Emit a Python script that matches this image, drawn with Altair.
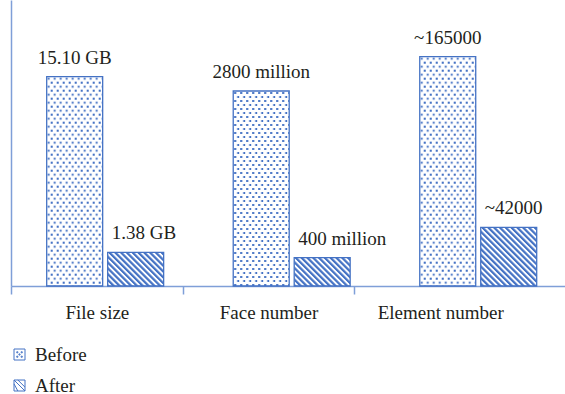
import base64
import altair as alt
import pandas as pd

# ---- data ----
categories = ["File size", "Face number", "Element number"]
groups = ["Before", "After"]
before_height = [209.3, 195.0, 229.3]   # drawn bar heights (relative units)
after_height = [33.7, 28.3, 58.7]
before_labels = ["15.10 GB", "2800 million", "~165000"]
after_labels = ["1.38 GB", "400 million", "~42000"]

BLUE = "#4472c4"
AXIS_BLUE = "#7f9fd8"
TEXT = "#231f20"
FONT = "Liberation Serif"


def pattern_uri(inner, w, h, extra=""):
    svg = (
        '<svg xmlns="http://www.w3.org/2000/svg" width="100%" height="100%">'
        f'<defs><pattern id="p" width="{w}" height="{h}" patternUnits="userSpaceOnUse"{extra}>'
        f'{inner}</pattern></defs><rect width="100%" height="100%" fill="url(#p)"/></svg>'
    )
    return "data:image/svg+xml;base64," + base64.b64encode(svg.encode()).decode()


dots = pattern_uri(
    f'<rect x="1" y="1" width="2" height="2" fill="{BLUE}"/>'
    f'<rect x="4" y="5" width="2" height="2" fill="{BLUE}"/>', 6, 8)
hatch = pattern_uri(
    f'<rect x="0" y="0" width="2.2" height="4.1" fill="{BLUE}"/>', 4.1, 4.1,
    ' patternTransform="rotate(-45)"')
pattern = {"Before": dots, "After": hatch}

rows = []
for c, bh, ah, bl, al in zip(categories, before_height, after_height, before_labels, after_labels):
    rows.append({"category": c, "group": "Before", "height": bh, "label": bl, "url": pattern["Before"]})
    rows.append({"category": c, "group": "After", "height": ah, "label": al, "url": pattern["After"]})
df = pd.DataFrame(rows)

before_path = ("M-1,-1H1V1H-1Z M-0.5,-0.5h0.2v0.2h-0.2Z M0.3,-0.5h0.2v0.2h-0.2Z "
               "M-0.1,-0.1h0.2v0.2h-0.2Z M-0.5,0.3h0.2v0.2h-0.2Z M0.3,0.3h0.2v0.2h-0.2Z")
after_path = "M-1,-1H1V1H-1Z M-1,-1L1,1 M-1,-0.3L-0.3,1 M-0.3,-1L1,0.3"

# ---- bars ----
bx = alt.X("category:N", sort=categories, axis=None,
           scale=alt.Scale(domain=categories, range=[35.7, 525.7], paddingInner=0.373, paddingOuter=0))
bxo = alt.XOffset("group:N", sort=groups,
                  scale=alt.Scale(domain=groups, paddingInner=0.082, paddingOuter=0))
by = alt.Y("height:Q", scale=alt.Scale(domain=[0, 286]),
           axis=alt.Axis(title=None, ticks=False, labels=False, grid=False,
                         domainColor=AXIS_BLUE, domainWidth=1.5))

base = alt.Chart(df).encode(x=bx, xOffset=bxo, y=by)

fill_img = base.mark_image(aspect=False).encode(y2=alt.datum(0), url="url:N")
outline = base.mark_bar(fill=BLUE, fillOpacity=0, stroke=BLUE, strokeWidth=1.3)
lab_before = base.transform_filter(alt.datum.group == "Before").mark_text(
    align="center", baseline="alphabetic", dy=-13, font=FONT, fontSize=19, color=TEXT
).encode(text="label:N")
lab_after = base.transform_filter(alt.datum.group == "After").mark_text(
    align="left", baseline="alphabetic", dx=-24, dy=-13, font=FONT, fontSize=19, color=TEXT
).encode(text="label:N")

bars = alt.layer(fill_img, outline, lab_before, lab_after)

# ---- category ticks/labels + legend ----
axis_layer = alt.Chart(df).mark_point(opacity=0, filled=False, color=BLUE).encode(
    x=alt.X("category:N", sort=categories,
            scale=alt.Scale(domain=categories, range=[0, 515.1], paddingInner=0, paddingOuter=0),
            axis=alt.Axis(title=None, orient="bottom", tickOffset=-85.85, labelOffset=85.85,
                          labelAngle=0, domain=False, tickColor=AXIS_BLUE,
                          tickWidth=1.5, tickSize=8, labelPadding=9, labelFont=FONT,
                          labelFontSize=19, labelColor=TEXT)),
    shape=alt.Shape("group:N", sort=groups,
                    scale=alt.Scale(domain=groups, range=[before_path, after_path]),
                    legend=alt.Legend(title=None, orient="none", legendX=-1, legendY=345,
                                      padding=0, symbolSize=121, symbolOpacity=1,
                                      symbolStrokeColor=BLUE, symbolFillColor="transparent",
                                      symbolStrokeWidth=1, labelFont=FONT, labelFontSize=19,
                                      labelColor=TEXT, labelOffset=6, rowPadding=11)),
)

# ---- full-width baseline (axis domain line) ----
line_layer = alt.Chart(df).mark_point(opacity=0).encode(
    x=alt.X("height:Q", axis=alt.Axis(title=None, orient="bottom", ticks=False, labels=False,
                                      grid=False, domainColor=AXIS_BLUE, domainWidth=1.5)),
)

chart = alt.layer(line_layer, axis_layer, bars).resolve_scale(x="independent").properties(
    width=554, height=286,
    padding={"left": 11, "top": 0, "right": 0, "bottom": 108},
    autosize=alt.AutoSizeParams(type="none"),
).configure_view(strokeWidth=0)

chart.save("out.html", embed_options={"renderer": "svg", "actions": False})
